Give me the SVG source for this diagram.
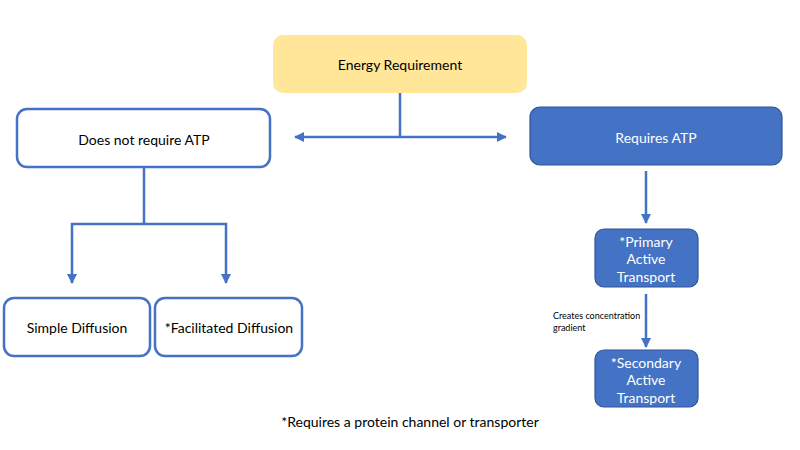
<svg xmlns="http://www.w3.org/2000/svg" width="800" height="450" viewBox="0 0 800 450">
<style>
text{font-family:Lato,"Open Sans","Liberation Sans",sans-serif;font-size:14px;text-anchor:middle;dominant-baseline:central;fill:#000}
.w{fill:#fff}
.o{fill:#fff;stroke:#4472C4;stroke-width:2.5}
.b{fill:#4472C4;stroke:#2F5597;stroke-width:1.2}
.c{fill:none;stroke:#4472C4;stroke-width:2.5}
</style>
<defs>
<marker id="ah" viewBox="0 0 10 10" refX="9" refY="5" markerWidth="4" markerHeight="4" orient="auto-start-reverse"><path d="M0,0 L10,5 L0,10 z" fill="#4472C4"/></marker>
</defs>
<rect width="800" height="450" fill="#fff"/>
<g id="connectors">
<path class="c" d="M400,93 V137"/>
<path class="c" d="M295,137 H506" marker-start="url(#ah)" marker-end="url(#ah)"/>
<path class="c" d="M144,167 V224"/>
<path class="c" d="M72,283 V224 H226 V283" marker-start="url(#ah)" marker-end="url(#ah)"/>
<path class="c" d="M646,171 V223" marker-end="url(#ah)"/>
<path class="c" d="M646,294 V347" marker-end="url(#ah)"/>
<text x="553" y="315" style="font-size:9px;text-anchor:start">Creates concentration</text>
<text x="553" y="327" style="font-size:9px;text-anchor:start">gradient</text>
</g>
<g id="energy">
<rect x="273" y="35" width="254" height="58" rx="10" fill="#FFE699"/>
<text x="400" y="64">Energy Requirement</text>
</g>
<g id="no-atp">
<rect class="o" x="17" y="109" width="253" height="58" rx="10"/>
<text x="144" y="139">Does not require ATP</text>
</g>
<g id="atp">
<rect class="b" x="530" y="107" width="252" height="58" rx="10"/>
<text class="w" x="656" y="137">Requires ATP</text>
</g>
<g id="simple">
<rect class="o" x="4" y="298" width="146" height="58" rx="10"/>
<text x="77" y="327">Simple Diffusion</text>
</g>
<g id="facilitated">
<rect class="o" x="155" y="298" width="147" height="58" rx="10"/>
<text x="229" y="327">*Facilitated Diffusion</text>
</g>
<g id="primary">
<rect class="b" x="595" y="229" width="103" height="58" rx="9"/>
<text class="w" x="646" y="241">*Primary</text>
<text class="w" x="646" y="258.5">Active</text>
<text class="w" x="646" y="276">Transport</text>
</g>
<g id="secondary">
<rect class="b" x="595" y="350" width="103" height="57" rx="9"/>
<text class="w" x="646" y="362">*Secondary</text>
<text class="w" x="646" y="379.5">Active</text>
<text class="w" x="646" y="397">Transport</text>
</g>
<text x="410" y="421">*Requires a protein channel or transporter</text>
</svg>
